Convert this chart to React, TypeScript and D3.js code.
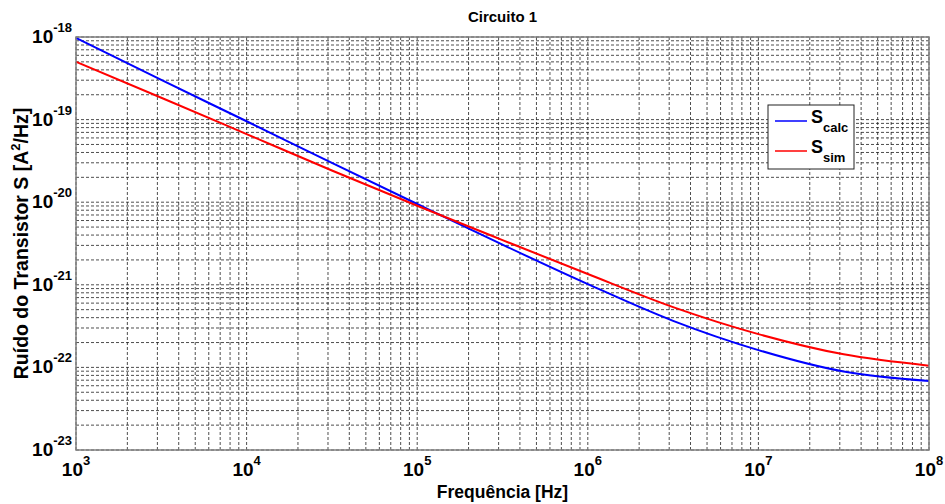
import React from "react";
import * as d3 from "d3";

const freqs = [1e3, 3.162e3, 1e4, 3.162e4, 1e5, 3.162e5, 1e6, 3.162e6, 1e7, 3.162e7, 1e8];
const sCalc = [9.77e-19, 3.02e-19, 9.55e-20, 2.99e-20, 9.51e-21, 3.06e-21, 1.02e-21, 3.66e-22, 1.62e-22, 8.91e-23, 6.84e-23];
const sSim = [5.01e-19, 1.84e-19, 6.68e-20, 2.42e-20, 9.06e-21, 3.48e-21, 1.35e-21, 5.37e-22, 2.53e-22, 1.44e-22, 1.05e-22];
const xTickExps = [3, 4, 5, 6, 7, 8];
const yTickExps = [-18, -19, -20, -21, -22, -23];
const title = "Circuito 1";
const xTitle = "Frequência [Hz]";
const seriesNames = [
  { main: "S", sub: "calc", color: "#0000ff", data: sCalc },
  { main: "S", sub: "sim", color: "#ff0000", data: sSim },
];

const W = 945, H = 504;
const L = 76, R = 929, T = 37, B = 450;
const FONT = "'Liberation Sans', Arial, sans-serif";

export default function App() {
  const x = d3.scaleLog().domain([1e3, 1e8]).range([L, R]);
  const y = d3.scaleLog().domain([1e-23, 1e-18]).range([B, T]);

  const minorX: number[] = [];
  for (let e = 3; e < 8; e++) for (let m = 2; m <= 9; m++) minorX.push(m * Math.pow(10, e));
  const minorY: number[] = [];
  for (let e = -23; e < -18; e++) for (let m = 2; m <= 9; m++) minorY.push(m * Math.pow(10, e));

  const line = (data: number[]) =>
    d3.line<number>().x((_, i) => x(freqs[i])).y((d) => y(d)).curve(d3.curveMonotoneX)(data) || "";

  const dash = "3,2";
  return (
    <svg width={W} height={H} style={{ position: "absolute", left: 0, top: 0, background: "#fff" }} fontFamily={FONT}>
      <rect x={0} y={0} width={W} height={H} fill="#fff" />
      <rect x={L} y={T} width={R - L} height={B - T} fill="#fff" />
      {/* grid */}
      <g stroke="#222" strokeWidth={0.8} strokeDasharray={dash}>
        {minorX.map((v, i) => (
          <line key={"mx" + i} x1={x(v)} x2={x(v)} y1={T} y2={B} />
        ))}
        {minorY.map((v, i) => (
          <line key={"my" + i} x1={L} x2={R} y1={y(v)} y2={y(v)} />
        ))}
        {xTickExps.map((e) => (
          <line key={"Mx" + e} x1={x(Math.pow(10, e))} x2={x(Math.pow(10, e))} y1={T} y2={B} />
        ))}
        {yTickExps.map((e) => (
          <line key={"My" + e} x1={L} x2={R} y1={y(Math.pow(10, e))} y2={y(Math.pow(10, e))} />
        ))}
      </g>
      {/* curves */}
      {seriesNames.map((s) => (
        <path key={s.sub} d={line(s.data)} fill="none" stroke={s.color} strokeWidth={2} />
      ))}
      {/* frame */}
      <rect x={L} y={T} width={R - L} height={B - T} fill="none" stroke="#808080" strokeWidth={1.5} />
      {/* x tick labels */}
      {xTickExps.map((e) => (
        <text key={"xl" + e} x={x(Math.pow(10, e))} y={476} textAnchor="middle" fontWeight="bold" fontSize={19}>
          10<tspan dy={-11} fontSize={13}>{e}</tspan>
        </text>
      ))}
      {/* y tick labels */}
      {yTickExps.map((e) => (
        <text key={"yl" + e} x={72} y={y(Math.pow(10, e)) + 6} textAnchor="end" fontWeight="bold" fontSize={19}>
          10<tspan dy={-11} fontSize={13}>{e}</tspan>
        </text>
      ))}
      {/* titles */}
      <text x={(L + R) / 2} y={22} textAnchor="middle" fontWeight="bold" fontSize={15}>{title}</text>
      <text x={(L + R) / 2} y={498} textAnchor="middle" fontWeight="bold" fontSize={17.5}>{xTitle}</text>
      <text transform={`translate(28,${(T + B) / 2}) rotate(-90)`} textAnchor="middle" fontWeight="bold" fontSize={19.5}>
        Ruído do Transistor S [A<tspan dy={-8} fontSize={13}>2</tspan><tspan dy={8}>/Hz]</tspan>
      </text>
      {/* legend */}
      <rect x={768} y={105} width={86} height={64} fill="#fff" stroke="#222" strokeWidth={1} />
      {seriesNames.map((s, i) => {
        const ly = 121 + i * 30;
        return (
          <g key={"lg" + s.sub}>
            <line x1={775} x2={807} y1={ly} y2={ly} stroke={s.color} strokeWidth={1.5} />
            <text x={811} y={ly + 2} fontWeight="bold" fontSize={18}>
              {s.main}
              <tspan dy={9} fontSize={13}>{s.sub}</tspan>
            </text>
          </g>
        );
      })}
    </svg>
  );
}
